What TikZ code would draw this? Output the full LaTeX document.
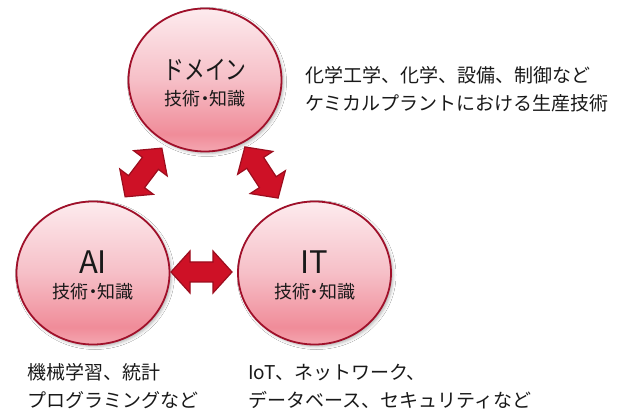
\documentclass[tikz,border=0pt]{standalone}
\usepackage{fontspec}
\setmainfont{Noto Sans CJK JP}
\usepackage{graphicx}
\usetikzlibrary{shapes.geometric,shadows.blur,calc}
\definecolor{ringred}{HTML}{A0102A}
\definecolor{cT}{HTML}{FDEBEE}
\definecolor{cM}{HTML}{F6BFC7}
\definecolor{cD}{HTML}{F08C99}
\definecolor{cB}{HTML}{F4A7B1}
\definecolor{arrowfill}{HTML}{CE1126}
\definecolor{arrowedge}{HTML}{9C0D1E}
\pgfdeclareverticalshading{pinkshade}{100bp}{color(0bp)=(cB); color(25bp)=(cB); color(31bp)=(cD); color(50bp)=(cM); color(75bp)=(cT); color(100bp)=(cT)}
\tikzset{
  circ/.style={ellipse, draw=ringred, line width=1.8pt, shading=pinkshade,
    minimum width=153pt, minimum height=143pt, inner sep=0pt,
    blur shadow={shadow xshift=2pt, shadow yshift=-2pt, shadow blur radius=3pt, shadow opacity=30}},
  dblarrow/.style={draw=arrowedge, fill=arrowfill, line width=1.2pt, line join=miter},
  mainlbl/.style={inner sep=0pt, font=\fontsize{31pt}{31pt}\selectfont, text=black!90},
  sublbl/.style={inner sep=0pt, font=\fontsize{18pt}{18pt}\selectfont, text=black!90},
  desc/.style={align=left, anchor=west, inner sep=0pt, font=\fontsize{19pt}{28pt}\selectfont, text=black!90}
}
\newcommand{\dblarrowpath}{(-30.5,0) -- (-11.5,-21) -- (-11.5,-10) -- (11.5,-10) -- (11.5,-21) -- (30.5,0) -- (11.5,21) -- (11.5,10) -- (-11.5,10) -- (-11.5,21) -- cycle}
\newcommand{\kgi}{技術\kern-4.5pt・\kern-4.5pt知識}
\begin{document}
\begin{tikzpicture}[x=1pt,y=-1pt]
\fill[white] (0,0) rectangle (618,411);
\useasboundingbox (0,0) rectangle (618,411);
\node[circ] (dom) at (205,80) {};
\node[circ] (ai) at (93,273) {};
\node[circ] (it) at (314.5,273) {};
\coordinate (m1) at (143.5,172.5);
\coordinate (m2) at (261.5,172.5);
\coordinate (m3) at (201.5,272);
\begin{scope}[shift={(m1)}, rotate=53]
  \draw[dblarrow] \dblarrowpath;
\end{scope}
\begin{scope}[shift={(m2)}, rotate=-57]
  \draw[dblarrow] \dblarrowpath;
\end{scope}
\begin{scope}[shift={(m3)}]
  \draw[dblarrow] \dblarrowpath;
\end{scope}
\node[mainlbl] (domname) at ($(dom)+(0,-10)$) {\scalebox{0.8}[1]{\fontsize{26pt}{26pt}\selectfont ドメイン}};
\node[sublbl] (domsub) at ($(dom)+(0,19)$) {\kgi};
\node[mainlbl] (ainame) at ($(ai)+(0,-11)$) {AI};
\node[sublbl] (aisub) at ($(ai)+(0,19)$) {\kgi};
\node[mainlbl] (itname) at ($(it)+(0,-11)$) {IT};
\node[sublbl] (itsub) at ($(it)+(0,19)$) {\kgi};
\node[desc] (domdesc) at (305,89) {化学工学、化学、設備、制御など\\ケミカルプラントにおける生産技術};
\node[desc] (aidesc) at (27,386.5) {機械学習、統計\\プログラミングなど};
\node[desc] (itdesc) at (248,386.5) {IoT、ネットワーク、\\データベース、セキュリティなど};
\end{tikzpicture}
\end{document}
